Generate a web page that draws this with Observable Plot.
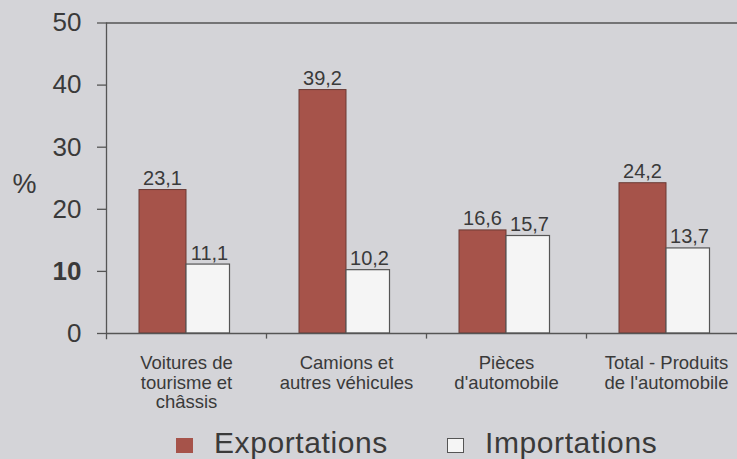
<!DOCTYPE html>
<html>
<head>
<meta charset="utf-8">
<script src="https://cdn.jsdelivr.net/npm/d3@7"></script>
<script src="https://cdn.jsdelivr.net/npm/@observablehq/plot@0.6"></script>
<style>
  html, body { margin: 0; padding: 0; background: #d4d4d8; }
  body { width: 737px; height: 459px; overflow: hidden; font-family: "Liberation Sans", Arial, sans-serif; color: #3a3a3a; }
  #legend { position: relative; height: 44px; font-size: 30px; letter-spacing: 0.6px; }
  .item { position: absolute; top: 10px; line-height: 36px; white-space: nowrap; }
  .sw { display: inline-block; width: 17px; height: 15px; vertical-align: baseline; margin-right: 21px; box-sizing: border-box; }
</style>
</head>
<body>
<div id="chart"></div>
<div id="legend"></div>
<script>
const categories = [
  "Voitures de\ntourisme et\nchâssis",
  "Camions et\nautres véhicules",
  "Pièces\nd'automobile",
  "Total - Produits\nde l'automobile"
];
const exportations = [23.1, 39.2, 16.6, 24.2];
const importations = [11.1, 10.2, 15.7, 13.7];
const seriesNames = ["Exportations", "Importations"];
const yTicks = [0, 10, 20, 30, 40, 50];

const exportColor = "#a6534a";
const importColor = "#f5f5f5";
const ink = "#3a3a3a";
const lineColor = "#555555";

const data = categories.map((c, i) => ({category: c, exp: exportations[i], imp: importations[i]}));
const fmt = v => String(v).replace(".", ",");

const chart = Plot.plot({
  width: 737,
  height: 415,
  marginLeft: 106,
  marginRight: -9,
  marginTop: 22.5,
  marginBottom: 82,
  style: {background: "transparent", fontFamily: "'Liberation Sans', Arial, sans-serif", color: ink},
  x: {domain: categories, padding: 0, label: null},
  y: {domain: [0, 50], label: null},
  marks: [
    Plot.ruleY([50], {stroke: lineColor, strokeWidth: 1.3}),
    Plot.barY(data, {x: "category", y: "exp", insetLeft: 33, insetRight: 80, fill: exportColor, stroke: "#6b3b35", strokeWidth: 1}),
    Plot.barY(data, {x: "category", y: "imp", insetLeft: 80, insetRight: 36.5, fill: importColor, stroke: lineColor, strokeWidth: 1.2}),
    Plot.ruleY([0], {stroke: lineColor, strokeWidth: 1.3}),
    Plot.ruleX(categories.slice(0, 1), {x: d => d, y1: -1, y2: 50, dx: -80, stroke: lineColor, strokeWidth: 1.3}),
    Plot.ruleX(categories.slice(1), {x: d => d, y1: -0.9, y2: 0, dx: -80, stroke: lineColor, strokeWidth: 1.3}),
    Plot.text(data, {x: "category", y: "exp", text: d => fmt(d.exp), dx: -24, dy: -5, lineAnchor: "bottom", fontSize: 20, fill: ink}),
    Plot.text(data, {x: "category", y: "imp", text: d => fmt(d.imp), dx: 23, dy: -5, lineAnchor: "bottom", fontSize: 20, fill: ink}),
    Plot.axisY({ticks: yTicks.filter(t => t !== 10), tickSize: 9, tickPadding: 16, fontSize: 26, stroke: lineColor, strokeWidth: 1.3, fill: ink, label: null}),
    Plot.axisY({ticks: [10], tickSize: 9, tickPadding: 16, fontSize: 26, fontWeight: "bold", stroke: lineColor, strokeWidth: 1.3, fill: ink, label: null}),
    Plot.axisX({tickSize: 0, tickPadding: 22, fontSize: 18.5, lineHeight: 1.05, fill: ink, label: null}),
    Plot.text(["%"], {frameAnchor: "left", dx: -70, dy: 6, textAnchor: "end", fontSize: 27, fill: ink})
  ]
});
document.getElementById("chart").appendChild(chart);

const legend = document.getElementById("legend");
const positions = [176, 447];
seriesNames.forEach((name, i) => {
  const item = document.createElement("div");
  item.className = "item";
  item.style.left = positions[i] + "px";
  const sw = document.createElement("span");
  sw.className = "sw";
  if (i === 0) { sw.style.background = exportColor; }
  else { sw.style.background = importColor; sw.style.border = "1.5px solid " + lineColor; }
  item.appendChild(sw);
  item.appendChild(document.createTextNode(name));
  legend.appendChild(item);
});
</script>
</body>
</html>
